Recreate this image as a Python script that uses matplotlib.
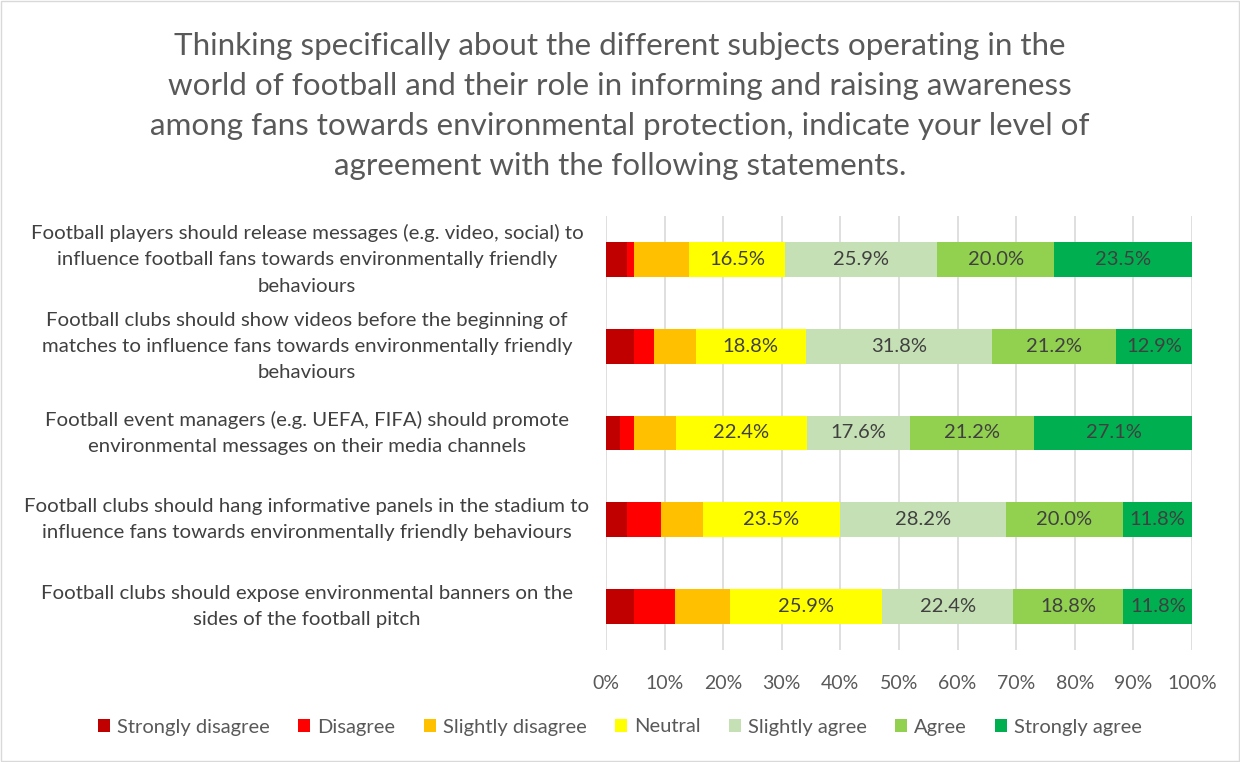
import numpy as np
import matplotlib.pyplot as plt
from matplotlib.transforms import blended_transform_factory

plt.rcParams['font.family'] = ['Lato', 'DejaVu Sans']

title = ("Thinking specifically about the different subjects operating in the\n"
         "world of football and their role in informing and raising awareness\n"
         "among fans towards environmental protection, indicate your level of\n"
         "agreement with the following statements.")

statements = [
    "Football players should release messages (e.g. video, social) to\ninfluence football fans towards environmentally friendly\nbehaviours",
    "Football clubs should show videos before the beginning of\nmatches to influence fans towards environmentally friendly\nbehaviours",
    "Football event managers (e.g. UEFA, FIFA) should promote\nenvironmental messages on their media channels",
    "Football clubs should hang informative panels in the stadium to\ninfluence fans towards environmentally friendly behaviours",
    "Football clubs should expose environmental banners on the\nsides of the football pitch",
]

levels = ["Strongly disagree", "Disagree", "Slightly disagree", "Neutral",
          "Slightly agree", "Agree", "Strongly agree"]
colors = ["#C00000", "#FF0000", "#FFC000", "#FFFF00", "#C5E0B4", "#92D050", "#00B050"]

strongly_disagree = [3.5, 4.7, 2.4, 3.5, 4.7]
disagree = [1.2, 3.5, 2.4, 5.9, 7.1]
slightly_disagree = [9.4, 7.1, 7.1, 7.1, 9.4]
neutral = [16.5, 18.8, 22.4, 23.5, 25.9]
slightly_agree = [25.9, 31.8, 17.6, 28.2, 22.4]
agree = [20.0, 21.2, 21.2, 20.0, 18.8]
strongly_agree = [23.5, 12.9, 27.1, 11.8, 11.8]

series = [strongly_disagree, disagree, slightly_disagree, neutral,
          slightly_agree, agree, strongly_agree]
show_label = [False, False, False, True, True, True, True]

fig = plt.figure(figsize=(12.4, 7.62), dpi=100)
ax = fig.add_axes([606 / 1240, 1 - 650 / 762, 586 / 1240, 434 / 762])

y = np.arange(len(statements))
left = np.zeros(len(statements))
for name, vals, col, lab in zip(levels, series, colors, show_label):
    vals = np.array(vals)
    ax.barh(y, vals, left=left, height=0.4, color=col, label=name, zorder=3)
    if lab:
        for yi, l, v in zip(y, left, vals):
            ax.text(l + v / 2, yi, f"{v:.1f}%", ha='center', va='center',
                    fontsize=14.5, color='#404040', zorder=4)
    left += vals

ax.set_xlim(0, 100)
ax.set_ylim(len(statements) - 0.5, -0.5)
ax.set_xticks(np.arange(0, 101, 10))
ax.set_xticklabels([f"{t}%" for t in range(0, 101, 10)], fontsize=14, color='#595959')
ax.set_yticks([])
ax.tick_params(axis='x', length=0, pad=18)
ax.grid(axis='x', color='#D9D9D9', linewidth=1.2, zorder=0)
for s in ax.spines.values():
    s.set_visible(False)

trans = blended_transform_factory(fig.transFigure, ax.transData)
for yi, txt in zip(y, statements):
    ax.text(307 / 1240, yi, txt, transform=trans, ha='center', va='center',
            multialignment='center', fontsize=14.7, color='#404040', linespacing=1.65)

fig.text(0.5, 1 - 106 / 762, title, ha='center', va='center', fontsize=22.6,
         color='#595959', linespacing=1.52)

fig.legend(loc='center', bbox_to_anchor=(0.5, 1 - 727 / 762), ncol=7, frameon=False,
           fontsize=14.5, handlelength=0.6, handleheight=0.6, handletextpad=0.35,
           columnspacing=1.4, labelcolor='#595959')

fig.patches.append(plt.Rectangle((0.001, 0.001), 0.998, 0.998, transform=fig.transFigure,
                                 fill=False, edgecolor='#D9D9D9', linewidth=1))

fig.savefig("out.png", dpi=100)
